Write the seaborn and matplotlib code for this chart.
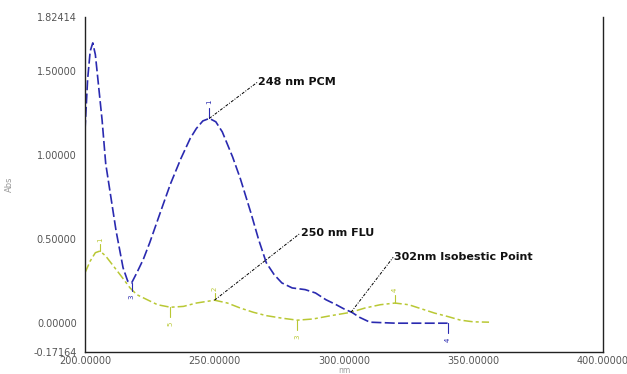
import numpy as np
import pandas as pd
import matplotlib
matplotlib.use("Agg")
import matplotlib.pyplot as plt
import seaborn as sns

# PCM (blue) spectrum
pcm_wl = [200, 201, 202, 203, 204, 205, 206.6, 208, 210, 212, 214.7, 216.5, 218, 220,
          222.5, 225, 230, 233, 237, 240.6, 243, 245.5, 248, 250.5, 253, 257, 260, 264, 267, 270, 273,
          276, 280, 285, 289, 293, 297, 300, 303, 306, 310, 320, 330, 340]
pcm_abs = [1.15, 1.45, 1.62, 1.67, 1.60, 1.45, 1.21, 0.95, 0.75, 0.55, 0.33, 0.25, 0.24, 0.30,
           0.38, 0.48, 0.70, 0.83, 0.98, 1.10, 1.16, 1.205, 1.22, 1.20, 1.14, 0.99, 0.86, 0.66, 0.50, 0.36, 0.29,
           0.24, 0.21, 0.20, 0.18, 0.14, 0.11, 0.085, 0.065, 0.035, 0.006, 0.0, 0.0, 0.0]

# FLU (green) spectrum
flu_wl = [200, 202, 204, 205.8, 208, 211, 214, 217.4, 220, 224, 228, 233, 238, 243, 250,
          255, 260, 265, 270, 276, 282, 288, 295, 302.7, 308, 314, 319.7, 325, 330, 335,
          340, 345, 350, 356]
flu_abs = [0.30, 0.37, 0.42, 0.43, 0.40, 0.34, 0.28, 0.21, 0.17, 0.14, 0.11, 0.095, 0.10, 0.12, 0.137,
           0.12, 0.09, 0.065, 0.045, 0.03, 0.018, 0.025, 0.045, 0.065, 0.09, 0.11, 0.12, 0.11, 0.085, 0.06,
           0.04, 0.018, 0.008, 0.006]

x_ticks = [200, 250, 300, 350, 400]
x_labels = ["200.00000", "250.00000", "300.00000", "350.00000", "400.00000"]
y_ticks = [-0.17164, 0.0, 0.5, 1.0, 1.5, 1.82414]
y_labels = ["-0.17164", "0.00000", "0.50000", "1.00000", "1.50000", "1.82414"]

# annotations: (text, point wl, point abs, text wl, text abs)
notes = [("248 nm PCM", 248, 1.22, 266.5, 1.435),
         ("250 nm FLU", 250, 0.137, 283.1, 0.536),
         ("302nm Isobestic Point", 302.7, 0.065, 319.0, 0.393)]

# peak-pick markers: (wl, abs, label, offset)
blue_marks = [(248, 1.22, "1", 0.10), (218, 0.24, "3", -0.08), (340, 0.0, "4", -0.10)]
green_marks = [(205.8, 0.43, "1", 0.07), (250, 0.137, "2", 0.07), (233, 0.095, "5", -0.10),
               (282, 0.018, "3", -0.10), (319.7, 0.12, "4", 0.08)]

sns.set_style("white")
plt.rcParams['font.family'] = ['DejaVu Sans']

fig = plt.figure(figsize=(6.27, 3.74), dpi=100)
ax = fig.add_axes([85/627, 1-352/374, (603-85)/627, (352-17)/374])

blue = "#2a2ab0"
green = "#b9c834"

df_p = pd.DataFrame({"wl": pcm_wl, "abs": pcm_abs})
df_f = pd.DataFrame({"wl": flu_wl, "abs": flu_abs})
sns.lineplot(data=df_f, x="wl", y="abs", ax=ax, color=green, lw=1.1, sort=False,
             linestyle=(0, (6, 2, 2, 2)))
sns.lineplot(data=df_p, x="wl", y="abs", ax=ax, color=blue, lw=1.2, sort=False,
             linestyle=(0, (6, 2)))

for wl, a, lab, off in blue_marks:
    ax.plot([wl, wl], [a, a + off * 0.6], color=blue, lw=0.8)
    ax.text(wl, a + off, lab, color=blue, fontsize=5, rotation=90, ha="center", va="center")
for wl, a, lab, off in green_marks:
    ax.plot([wl, wl], [a, a + off * 0.6], color=green, lw=0.8)
    ax.text(wl, a + off, lab, color=green, fontsize=5, rotation=90, ha="center", va="center")

for txt, px, py, tx, ty in notes:
    ax.plot([px, tx], [py, ty], color="black", lw=0.7, linestyle=(0, (3, 1.5, 1, 1.5)))
    ax.text(tx + 0.3, ty, txt, fontsize=8, fontweight="bold", color="#111111",
            ha="left", va="center")

ax.set_xlim(200, 400)
ax.set_ylim(-0.17164, 1.82414)
ax.set_xticks(x_ticks)
ax.set_xticklabels(x_labels)
ax.set_yticks(y_ticks)
ax.set_yticklabels(y_labels)
ax.tick_params(axis="x", direction="in", length=3, labelsize=7, labelcolor="#555555", pad=3)
ax.tick_params(axis="y", direction="out", length=4, labelsize=7, labelcolor="#555555", pad=2)
ax.set_xlabel("nm", fontsize=5.5, color="#999999", labelpad=0)
ax.set_ylabel("Abs", fontsize=6, color="#999999", labelpad=14)
for s in ["left", "bottom", "right"]:
    ax.spines[s].set_color("#222222")
    ax.spines[s].set_linewidth(1.0)
ax.spines["top"].set_visible(False)

fig.savefig("out.png", dpi=100)
